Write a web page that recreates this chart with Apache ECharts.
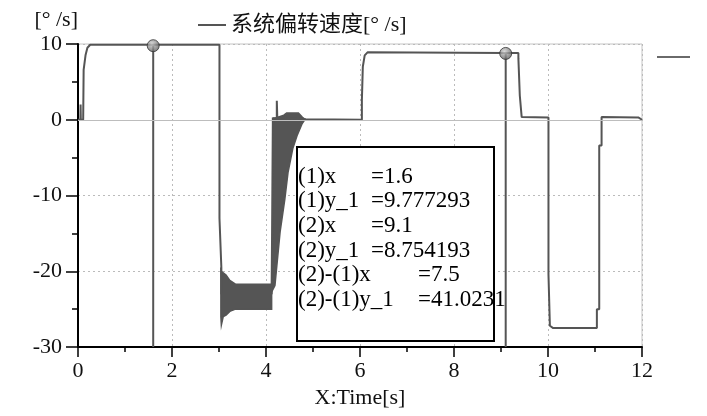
<!DOCTYPE html>
<html><head><meta charset="utf-8">
<script src="https://cdn.jsdelivr.net/npm/echarts@6/dist/echarts.min.js"></script>
<style>html,body{margin:0;padding:0;background:#fff}#c{width:707px;height:416px}</style>
</head><body><div id="c"></div>
<script>
const seriesName = '系统偏转速度[° /s]';
const yUnit = '[° /s]';
const xName = 'X:Time[s]';

// main trace (time [s], rate [deg/s])
const time = [0, 0.05, 0.055, 0.06, 0.11, 0.12, 0.16, 0.2, 0.26, 3.01, 3.01, 3.05, 3.05, 4.12, 4.12, 4.15, 4.15, 4.23, 4.23, 4.24, 4.85, 6.04, 6.04, 6.06, 6.10, 6.16, 9.1, 9.37, 9.37, 9.40, 9.40, 9.44, 9.44, 10.01, 10.01, 10.04, 10.04, 10.11, 11.04, 11.04, 11.09, 11.09, 11.14, 11.14, 11.92, 12];
const rate = [0, 0, 2.0, 0, 0, 6.6, 8.5, 9.5, 9.9, 9.9, -13, -19.5, -23, -23, -22, -22, 0.2, 0.2, 2.5, 0.3, 0.05, 0, 2.6, 7.0, 8.5, 8.9, 8.8, 8.8, 8.1, 8.1, 3.2, 3.2, 0.35, 0.3, -20.4, -20.4, -27.2, -27.5, -27.5, -25, -25, -3.4, -3.4, 0.35, 0.3, 0];

// oscillation envelopes (dense ringing drawn as filled band)
const band1Upper = [[3.04, -19.5], [3.05, -20.0], [3.09, -20.2], [3.15, -20.5], [3.23, -21.2], [3.35, -21.7], [4.12, -21.7]];
const band1Lower = [[3.04, -26.0], [3.05, -27.1], [3.09, -26.0], [3.15, -25.8], [3.23, -25.3], [3.35, -25.0], [4.12, -25.0]];
const band2Upper = [[4.14, 0.2], [4.19, 0.2], [4.38, 0.6], [4.44, 0.9], [4.69, 0.9], [4.77, 0.35], [4.83, 0.05]];
const band2Lower = [[4.14, -22.5], [4.19, -21.9], [4.30, -14.8], [4.40, -10.5], [4.47, -6.9], [4.57, -3.8], [4.66, -2.1], [4.77, -0.5], [4.83, 0.05]];

// cursors
const cursorX = [1.6, 9.1];
const cursorY = [9.777293, 8.754193];
const readoutLabels = ['(1)x', '(1)y_1', '(2)x', '(2)y_1', '(2)-(1)x', '(2)-(1)y_1'];
const readoutValues = ['1.6', '9.777293', '9.1', '8.754193', '7.5', '41.0231'];

const FONT = "'Liberation Serif', 'Noto Sans CJK SC', serif";
const LINE = '#555';

const mainData = time.map((t, i) => [t, rate[i]]);
const bands = [[band1Upper, band1Lower], [band2Upper, band2Lower]];

const chart = echarts.init(document.getElementById('c'), null, {renderer: 'canvas'});

const series = [
  {
    name: 'zeroRef', type: 'line', data: [], z: 1, silent: true,
    markLine: {
      silent: true, symbol: ['none', 'none'], label: {show: false},
      lineStyle: {color: '#bdbdbd', type: 'solid', width: 1.2},
      data: [{yAxis: 0}], animation: false
    }
  },
  {
    name: seriesName, type: 'line', data: mainData, showSymbol: false, z: 3,
    lineStyle: {color: LINE, width: 2}, itemStyle: {color: LINE}
  },
  {
    name: 'bands', type: 'custom', coordinateSystem: 'cartesian2d', z: 3, silent: true,
    data: bands.map(b => b[0][0]),
    renderItem: function (params, api) {
      const b = bands[params.dataIndex];
      const pts = b[0].map(p => api.coord(p)).concat(b[1].slice().reverse().map(p => api.coord(p)));
      return {type: 'polygon', shape: {points: pts}, style: {fill: LINE, stroke: LINE, lineWidth: 1.5}};
    }
  }
];

cursorX.forEach((cx, i) => {
  series.push({
    name: 'cursor' + i, type: 'line', data: [[cx, cursorY[i]], [cx, -30]], showSymbol: false, z: 4, silent: true,
    lineStyle: {color: LINE, width: 2}
  });
});
series.push({
  name: 'markers', type: 'scatter', z: 5, silent: true,
  data: cursorX.map((cx, i) => [cx, cursorY[i]]),
  symbolSize: 12,
  itemStyle: {
    color: new echarts.graphic.RadialGradient(0.4, 0.35, 0.7, [
      {offset: 0, color: '#d0d0d0'}, {offset: 1, color: '#555'}
    ]),
    borderColor: '#333', borderWidth: 1
  }
});

const lineYs = [176.7, 201.3, 226, 250.7, 275.3, 300];
const graphics = [
  {type: 'rect', shape: {x: 297, y: 147, width: 197, height: 194}, style: {fill: '#fff', stroke: '#000', lineWidth: 2}, z: 100},
  {type: 'rect', shape: {x: 657, y: 56, width: 33, height: 2}, style: {fill: '#6a6a6a'}, z: 100}
];
readoutLabels.forEach((lab, i) => {
  graphics.push({type: 'text', x: 298, y: lineYs[i], z: 101,
    style: {text: lab, fill: '#000', font: "23px " + FONT, textVerticalAlign: 'middle', verticalAlign: 'middle'}});
  graphics.push({type: 'text', x: i < 4 ? 371 : 418, y: lineYs[i], z: 101,
    style: {text: '=' + readoutValues[i], fill: '#000', font: "23px " + FONT, textVerticalAlign: 'middle', verticalAlign: 'middle'}});
});

chart.setOption({
  animation: false,
  backgroundColor: '#fff',
  grid: {left: 78, right: 65, top: 44, bottom: 69, show: true, borderColor: '#c4c4c4', borderWidth: 1},
  legend: {
    data: [seriesName], left: 193, top: 9, icon: 'rect', itemWidth: 28, itemHeight: 2, itemGap: 6,
    textStyle: {fontFamily: FONT, fontSize: 22, color: '#111'}
  },
  xAxis: {
    type: 'value', min: 0, max: 12, interval: 2,
    name: xName, nameLocation: 'middle', nameGap: 40,
    nameTextStyle: {fontFamily: FONT, fontSize: 22, color: '#111'},
    axisLine: {show: true, onZero: false, lineStyle: {color: '#000', width: 2}},
    axisTick: {show: true, length: 10, lineStyle: {color: '#000', width: 1.5}},
    minorTick: {show: true, splitNumber: 2, length: 5, lineStyle: {color: '#000', width: 1.5}},
    axisLabel: {fontFamily: FONT, fontSize: 22, color: '#111', margin: 13},
    splitLine: {show: true, lineStyle: {color: '#bbb', type: [2, 3], width: 1}}
  },
  yAxis: {
    type: 'value', min: -30, max: 10, interval: 10,
    name: yUnit, nameLocation: 'end', nameGap: 13,
    nameTextStyle: {fontFamily: FONT, fontSize: 22, color: '#111', align: 'right', verticalAlign: 'bottom'},
    axisLine: {show: true, onZero: false, lineStyle: {color: '#000', width: 2}},
    axisTick: {show: true, length: 12, lineStyle: {color: '#000', width: 1.5}},
    minorTick: {show: true, splitNumber: 2, length: 6, lineStyle: {color: '#000', width: 1.5}},
    axisLabel: {fontFamily: FONT, fontSize: 22, color: '#111', margin: 16},
    splitLine: {show: true, lineStyle: {color: '#bbb', type: [2, 3], width: 1}}
  },
  series: series,
  graphic: graphics
});
</script></body></html>
